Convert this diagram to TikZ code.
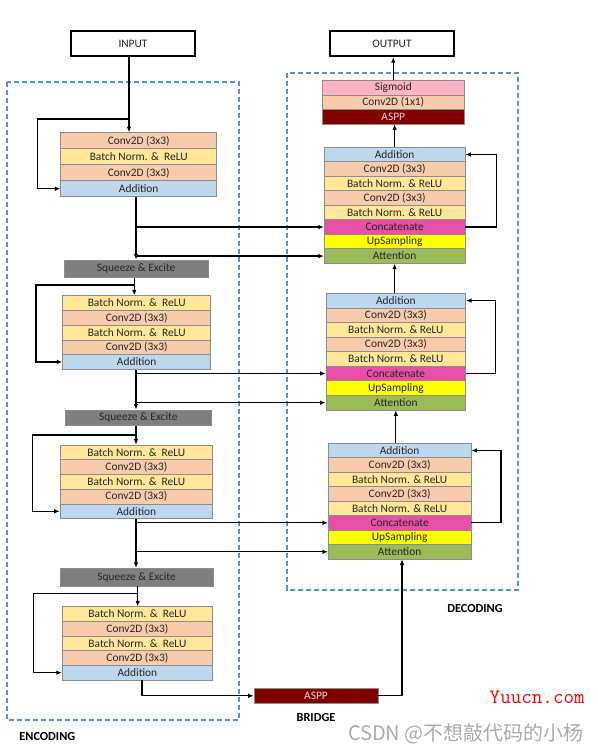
\documentclass[tikz,border=0pt]{standalone}
\usepackage{fontspec}
\setmainfont{Carlito}
\newfontfamily\cjkfont{Noto Sans CJK SC}
\usetikzlibrary{arrows.meta}
\definecolor{cconv}{HTML}{F8CBAD}
\definecolor{cbn}{HTML}{FFE699}
\definecolor{cadd}{HTML}{BDD7EE}
\definecolor{ccat}{HTML}{E94FA8}
\definecolor{cups}{HTML}{FFFF00}
\definecolor{catt}{HTML}{9BBB59}
\definecolor{csig}{HTML}{FFB3C4}
\definecolor{caspp}{HTML}{800000}
\definecolor{casppt}{HTML}{F5CFCF}
\definecolor{csq}{HTML}{7F7F7F}
\definecolor{rowline}{HTML}{8C8C8C}
\definecolor{txt}{HTML}{262626}
\definecolor{dashblue}{HTML}{5B8FD3}
\definecolor{wmgrey}{HTML}{ABABAB}
\newcommand\rowfont{\fontsize{11.4}{12}\selectfont}
\newcommand\mkblock[5]{%
  \foreach \nm/\st/\tx [count=\i] in {#5}{%
    \node[\st, minimum width={(#2)-(#1)}, minimum height={#4}] (\nm)
      at ({((#1)+(#2))/2},{(#3)+(\i-0.5)*(#4)}) {\tx};}}
\begin{document}
\begin{tikzpicture}[x=1pt,y=-1pt,
  rowbox/.style={draw=rowline, line width=0.7pt, inner sep=0pt, font=\rowfont, text=txt},
  conv/.style={rowbox, fill=cconv},
  bn/.style={rowbox, fill=cbn},
  add/.style={rowbox, fill=cadd},
  cat/.style={rowbox, fill=ccat},
  ups/.style={rowbox, fill=cups},
  att/.style={rowbox, fill=catt},
  sig/.style={rowbox, fill=csig},
  aspp/.style={rowbox, fill=caspp, text=casppt},
  sqz/.style={rowbox, fill=csq},
  iobox/.style={draw=black, line width=2.2pt, fill=white, inner sep=0pt, font=\rowfont, text=txt},
  arr/.style={-{Latex[length=5.5pt,width=4.5pt]}, line width=1.2pt, black},
  region/.style={draw=dashblue, line width=1.8pt, dash pattern=on 5pt off 3pt},
  lbl/.style={font=\fontsize{12.3}{14}\selectfont\bfseries, text=black, inner sep=0pt}]
\useasboundingbox (0,0) rectangle (597,752);

% regions
\draw[region] (7.3,81.7) rectangle (238.7,720);
\draw[region] (286.7,73.3) rectangle (518,590);

% input / output
\node[iobox, minimum width=124, minimum height=25] (input) at (133,43.5) {INPUT};
\node[iobox, minimum width=124, minimum height=25] (output) at (392,43.5) {OUTPUT};

% encoder blocks
\mkblock{60.7}{216.7}{132.7}{16}{b1a/conv/Conv2D (3x3), b1b/bn/Batch Norm. \&\ \ ReLU, b1c/conv/Conv2D (3x3), b1d/add/Addition}
\mkblock{62.7}{210.7}{295.7}{14.72}{b2a/bn/Batch Norm. \&\ \ ReLU, b2b/conv/Conv2D (3x3), b2c/bn/Batch Norm. \&\ \ ReLU, b2d/conv/Conv2D (3x3), b2e/add/Addition}
\mkblock{60}{212.7}{445}{14.74}{b3a/bn/Batch Norm. \&\ \ ReLU, b3b/conv/Conv2D (3x3), b3c/bn/Batch Norm. \&\ \ ReLU, b3d/conv/Conv2D (3x3), b3e/add/Addition}
\mkblock{62.2}{212.6}{606.7}{14.66}{b4a/bn/Batch Norm. \&\ \ ReLU, b4b/conv/Conv2D (3x3), b4c/bn/Batch Norm. \&\ \ ReLU, b4d/conv/Conv2D (3x3), b4e/add/Addition}

% squeeze & excite
\node[sqz, minimum width=144.3, minimum height=17.3] (s1) at (136.15,268.65) {Squeeze \& Excite};
\node[sqz, minimum width=146.7, minimum height=15.7] (s2) at (138.35,417.85) {Squeeze \& Excite};
\node[sqz, minimum width=153.3, minimum height=17.7] (s3) at (136.65,577.15) {Squeeze \& Excite};

% bridge
\node[aspp, minimum width=124, minimum height=15] (bridge) at (316,695.8) {ASPP};

% decoder head
\mkblock{322.3}{464.3}{80.7}{14.43}{h1/sig/Sigmoid, h2/conv/Conv2D (1x1), h3/aspp/ASPP}

% decoder blocks
\mkblock{324.3}{465}{147.3}{14.5}{d1a/add/Addition, d1b/conv/Conv2D (3x3), d1c/bn/Batch Norm. \& ReLU, d1d/conv/Conv2D (3x3), d1e/bn/Batch Norm. \& ReLU, d1f/cat/Concatenate, d1g/ups/UpSampling, d1h/att/Attention}
\mkblock{326}{465.7}{293.3}{14.58}{d2a/add/Addition, d2b/conv/Conv2D (3x3), d2c/bn/Batch Norm. \& ReLU, d2d/conv/Conv2D (3x3), d2e/bn/Batch Norm. \& ReLU, d2f/cat/Concatenate, d2g/ups/UpSampling, d2h/att/Attention}
\mkblock{328.3}{471}{443.3}{14.46}{d3a/add/Addition, d3b/conv/Conv2D (3x3), d3c/bn/Batch Norm. \& ReLU, d3d/conv/Conv2D (3x3), d3e/bn/Batch Norm. \& ReLU, d3f/cat/Concatenate, d3g/ups/UpSampling, d3h/att/Attention}

% ---- encoder connectors ----
\coordinate (t1) at (129,119);   \coordinate (c1) at (37.7,119);
\coordinate (t2) at (134.3,285); \coordinate (c2) at (36,285);
\coordinate (t3) at (136,435);   \coordinate (c3) at (32.3,435);
\coordinate (t4) at (137.7,593.3); \coordinate (c4) at (33.7,593.3);
\coordinate (k1) at (136,0); \coordinate (k2) at (136,0);
\coordinate (k3) at (136,0); \coordinate (k4) at (142,0);

\draw[arr] (input.south -| t1) -- (t1 |- b1a.north);
\draw[arr] (t1) -- (c1) |- (b1d.west);
\draw[arr] (k1 |- b1d.south) -- (k1 |- s1.north);
\draw[arr] (k1 |- d1f.west) -- (d1f.west);
\draw[arr] (k1 |- d1h.west) -- (d1h.west);

\draw[arr] (t2 |- s1.south) -- (t2 |- b2a.north);
\draw[arr] (t2) -- (c2) |- (b2e.west);
\draw[arr] (k2 |- b2e.south) -- (k2 |- s2.north);
\draw[arr] (k2 |- d2f.west) -- (d2f.west);
\draw[arr] (k2 |- d2h.west) -- (d2h.west);

\draw[arr] (t3 |- s2.south) -- (t3 |- b3a.north);
\draw[arr] (t3) -- (c3) |- (b3e.west);
\draw[arr] (k3 |- b3e.south) -- (k3 |- s3.north);
\draw[arr] (k3 |- d3f.west) -- (d3f.west);
\draw[arr] (k3 |- d3h.west) -- (d3h.west);

\draw[arr] (t4 |- s3.south) -- (t4 |- b4a.north);
\draw[arr] (t4) -- (c4) |- (b4e.west);
\draw[arr] (k4 |- b4e.south) |- (bridge.west);

% ---- bridge to decoder ----
\coordinate (kb) at (402,0);
\draw[arr] (bridge.east) -- (bridge.east -| kb) -- (kb |- d3h.south);

% ---- decoder connectors ----
\draw[arr] (d2h.south |- d3a.north) -- (d2h.south);
\draw[arr] (d1h.south |- d2a.north) -- (d1h.south);
\draw[arr] (d1a.north) -- (d1a.north |- h3.south);
\draw[arr] (h1.north) -- (h1.north |- output.south);

\coordinate (r1) at (496.7,0); \coordinate (r2) at (495.7,0); \coordinate (r3) at (501,0);
\draw[arr] (d1f.east) -- (d1f.east -| r1) |- (d1a.east);
\draw[arr] (d2f.east) -- (d2f.east -| r2) |- (d2a.east);
\draw[arr] (d3f.east) -- (d3f.east -| r3) |- (d3a.east);

% labels
\node[lbl] (enc) at (47.3,737) {ENCODING};
\node[lbl] (bri) at (316,718) {BRIDGE};
\node[lbl] (dec) at (475,608.5) {DECODING};

% watermarks
\node[inner sep=0pt, text=red, font=\ttfamily\fontsize{20.5}{22}\selectfont] (wm1) at (537.2,697.3) {Yuucn.com};
\node[inner sep=0pt, anchor=east, text=wmgrey, font=\cjkfont\fontsize{20}{22}\selectfont] (wm2) at (584,733.3) {CSDN @不想敲代码的小杨};
\end{tikzpicture}
\end{document}
